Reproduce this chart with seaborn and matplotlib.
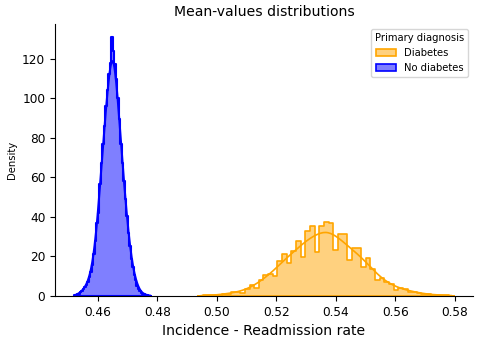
import numpy as np
import pandas as pd
import matplotlib
matplotlib.use("Agg")
import matplotlib.pyplot as plt
from matplotlib.patches import Patch
from matplotlib.colors import to_rgba
import seaborn as sns

# ---- data (density per bin) ----
legend_title = "Primary diagnosis"
groups = ["Diabetes", "No diabetes"]
group_colors = ["orange", "blue"]

diab_start = 0.4938
diab_width = 0.001562
diab_density = [0.2, 0.3, 0.3, 0.4, 0.5, 1.0, 1.0, 2.0, 2.3, 1.6,
                3.4, 5.6, 3.9, 8.5, 11.0, 11.2, 10.3, 18.2, 22.0, 17.1,
                23.3, 28.7, 20.4, 33.8, 36.3, 22.8, 36.3, 38.4, 37.8, 23.7,
                32.3, 32.3, 18.6, 24.7, 24.7, 15.2, 19.9, 14.0, 8.1, 9.3,
                7.3, 6.1, 3.0, 4.4, 3.4, 2.2, 2.2, 1.7, 0.9, 0.8,
                0.6, 0.5, 0.4, 0.3, 0.2]

nodiab_start = 0.4520
nodiab_width = 0.0005
nodiab_density = [0.3, 0.6, 0.9, 1.2, 2.0, 2.8, 3.7, 4.5, 5.9, 7.5,
                  10.0, 12.8, 16.5, 22.0, 29.0, 38.5, 43.4, 59.0, 70.0, 79.7,
                  89.0, 99.5, 108.0, 116.5, 122.5, 136.0, 128.5, 122.0, 114.0, 104.0,
                  93.0, 80.0, 70.0, 60.5, 51.0, 42.0, 33.0, 26.0, 19.5, 15.0,
                  11.0, 8.5, 5.5, 3.6, 2.5, 1.6, 1.1, 0.8, 0.5, 0.3,
                  0.2, 0.1]

title = "Mean-values distributions"
xlabel = "Incidence - Readmission rate"
ylabel = "Density"


def make_frame(start, width, dens, name):
    edges = start + width * np.arange(len(dens) + 1)
    centers = (edges[:-1] + edges[1:]) / 2
    return pd.DataFrame({"rate": centers, "w": dens, "diag": name}), [float(e) for e in edges]


sns.set_style("ticks", {"text.color": "black", "axes.labelcolor": "black",
                        "xtick.color": "black", "ytick.color": "black",
                        "axes.edgecolor": "black"})
plt.rcParams["font.family"] = ["DejaVu Sans"]

fig = plt.figure(figsize=(4.8, 3.41), dpi=100)
ax = fig.add_axes([55 / 480, 1 - 296 / 341, (473 - 55) / 480, (296 - 24) / 341])

df_d, edges_d = make_frame(diab_start, diab_width, diab_density, groups[0])
df_n, edges_n = make_frame(nodiab_start, nodiab_width, nodiab_density, groups[1])

for df, edges, col, lw in [(df_d, edges_d, group_colors[0], 1.2),
                           (df_n, edges_n, group_colors[1], 1.5)]:
    sns.histplot(data=df, x="rate", weights="w", bins=edges, stat="density",
                 element="step", fill=True, color=col, alpha=0.5,
                 kde=True, kde_kws={"bw_adjust": 0.5},
                 line_kws={"linewidth": lw}, linewidth=lw, ax=ax)

sns.despine(ax=ax)
ax.set_title(title, fontsize=10.1, color="black")
ax.set_xlabel(xlabel, fontsize=10.1, color="black")
ax.set_ylabel(ylabel, fontsize=7.2, color="black")
ax.tick_params(axis="both", labelsize=8.7, length=3.5, colors="black")

handles = [Patch(facecolor=to_rgba(c, 0.5), edgecolor=c, linewidth=1.2, label=g)
           for g, c in zip(groups, group_colors)]
ax.legend(handles=handles, title=legend_title, loc="upper right",
          fontsize=7.2, title_fontsize=7.2)

fig.savefig("out.png", dpi=100)
